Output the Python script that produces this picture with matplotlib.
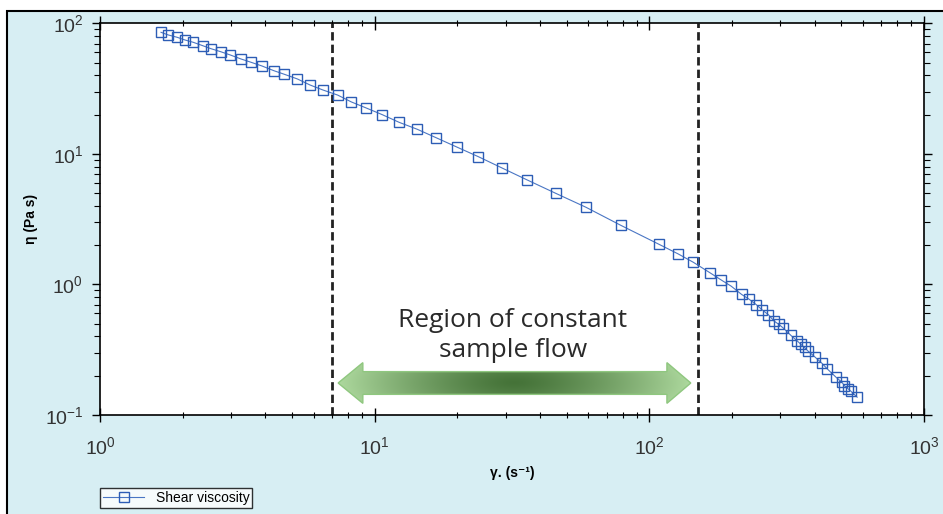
import numpy as np
import matplotlib
matplotlib.use('Agg')
import matplotlib.pyplot as plt
from matplotlib.patches import Polygon, Rectangle
from matplotlib.ticker import LogLocator, NullFormatter

plt.rcParams['font.family'] = ['Liberation Sans', 'DejaVu Sans']
plt.rcParams['axes.unicode_minus'] = False

# shear rate (1/s) and shear viscosity (Pa s)
shear_rate = [1.668, 1.773, 1.911, 2.039, 2.186, 2.365, 2.536, 2.750, 2.981, 3.261,
              3.546, 3.889, 4.289, 4.688, 5.228, 5.814, 6.466, 7.334, 8.220, 9.297,
              10.66, 12.26, 14.29, 16.72, 19.89, 23.84, 29.07, 35.76, 45.60, 58.78,
              78.63, 108.4, 127.4, 144.5, 166.6, 183.0, 198.6, 216.8, 230.5, 245.1,
              257.6, 271.4, 284.2, 296.4, 307.8, 327.7, 344.6, 355.7, 367.3, 376.9,
              400.1, 425.0, 444.9, 477.9, 502.5, 513.1, 530.6, 542.0, 571.0]
viscosity = [85.3, 81.4, 78.1, 74.5, 71.5, 67.4, 63.9, 60.6, 57.2, 53.3,
             50.3, 47.1, 43.4, 40.7, 37.5, 33.7, 30.9, 28.2, 25.0, 22.5,
             19.96, 17.46, 15.43, 13.31, 11.29, 9.52, 7.80, 6.34, 4.99, 3.90,
             2.84, 2.03, 1.712, 1.479, 1.225, 1.079, 0.970, 0.838, 0.772, 0.700,
             0.638, 0.586, 0.525, 0.494, 0.462, 0.407, 0.371, 0.349, 0.329, 0.311,
             0.279, 0.249, 0.225, 0.195, 0.178, 0.168, 0.158, 0.152, 0.137]
region_limits = [7.0, 150.0]
region_text = 'Region of constant\nsample flow'
series_name = 'Shear viscosity'

W, H = 943, 514
fig = plt.figure(figsize=(W / 100, H / 100), dpi=100)
fig.patch.set_facecolor('white')

# light blue panel with black border on left/top
panel = Rectangle((7 / W, -0.1), 1.2, 1 - 11 / H + 0.1, transform=fig.transFigure,
                  facecolor='#d7eef3', edgecolor='black', linewidth=1.5, zorder=-5)
fig.patches.append(panel)

ax = fig.add_axes([100 / W, 1 - 415 / H, 824 / W, 391.7 / H])
ax.set_facecolor('white')
ax.set_xscale('log')
ax.set_yscale('log')
ax.set_xlim(1, 1000)
ax.set_ylim(0.1, 100)

ax.plot(shear_rate, viscosity, color='#4a76c4', linewidth=0.8, marker='s',
        markersize=7.6, markerfacecolor='none', markeredgecolor='#2d5db5',
        markeredgewidth=1.0, label=series_name, zorder=3)

for xv in region_limits:
    ax.axvline(xv, color='#222222', linestyle=(0, (3, 1.5)), linewidth=2, zorder=2)

# gradient double arrow (axes fraction coordinates)
xl, xr = 0.289, 0.717
hl, hr = 0.319, 0.688
yc, hh, sh = 0.0817, 0.052, 0.029
arrow_pts = [(xl, yc), (hl, yc + hh), (hl, yc + sh), (hr, yc + sh), (hr, yc + hh),
             (xr, yc), (hr, yc - hh), (hr, yc - sh), (hl, yc - sh), (hl, yc - hh)]
arrow = Polygon(arrow_pts, closed=True, transform=ax.transAxes,
                facecolor='none', edgecolor='#8fc77f', linewidth=1.0, zorder=4)
ax.add_patch(arrow)
gx = np.linspace(-1, 1, 400)
gy = np.linspace(-1, 1, 60)
GX, GY = np.meshgrid(gx, gy)
t = np.clip(np.sqrt(GX ** 2 + 0.15 * GY ** 2), 0, 1)
dark = np.array([0.27, 0.45, 0.22])
light = np.array([0.68, 0.85, 0.62])
img = dark + (light - dark) * t[..., None] ** 1.3
im = ax.imshow(img, extent=[xl, xr, yc - hh, yc + hh], transform=ax.transAxes,
               aspect='auto', zorder=3.5, interpolation='bilinear')
clip = Polygon(arrow_pts, closed=True, transform=ax.transAxes, facecolor='none',
               edgecolor='none')
ax.add_patch(clip)
im.set_clip_path(clip)
ax.set_xlim(1, 1000)
ax.set_ylim(0.1, 100)

ax.text(0.501, 0.203, region_text, transform=ax.transAxes, ha='center', va='center',
        fontsize=19, family='Open Sans', color='#2a2a2a', linespacing=1.25, zorder=5)

# ticks
for axis in (ax.xaxis, ax.yaxis):
    axis.set_major_locator(LogLocator(base=10, numticks=10))
    axis.set_minor_locator(LogLocator(base=10, subs=np.arange(2, 10), numticks=10))
    axis.set_minor_formatter(NullFormatter())
ax.tick_params(axis='both', which='both', top=True, right=True, labelsize=14,
               labelcolor='#333333', colors='black')
ax.tick_params(axis='x', which='major', direction='inout', length=10, width=1, pad=10)
ax.tick_params(axis='x', which='minor', direction='inout', length=5, width=0.8)
ax.tick_params(axis='y', which='major', direction='out', length=6, width=1, pad=6)
ax.tick_params(axis='y', which='minor', direction='out', length=4, width=0.8)
for s in ax.spines.values():
    s.set_linewidth(1.2)

ax.set_xlabel('γ. (s⁻¹)', fontsize=10, fontweight='bold', labelpad=6)
ax.set_ylabel('η (Pa s)', fontsize=10, fontweight='bold')
ax.yaxis.set_label_coords(-0.075, 0.5)

leg = fig.legend(loc='lower left', bbox_to_anchor=(100 / W, 1 - 508 / H), frameon=True,
                 prop={'size': 10}, handlelength=3,
                 borderpad=0.2, fancybox=False, handletextpad=0.8, borderaxespad=0)
leg.get_frame().set_edgecolor('black')
leg.get_frame().set_linewidth(1.0)
leg.get_frame().set_facecolor('white')

fig.savefig('out.png', dpi=100)
